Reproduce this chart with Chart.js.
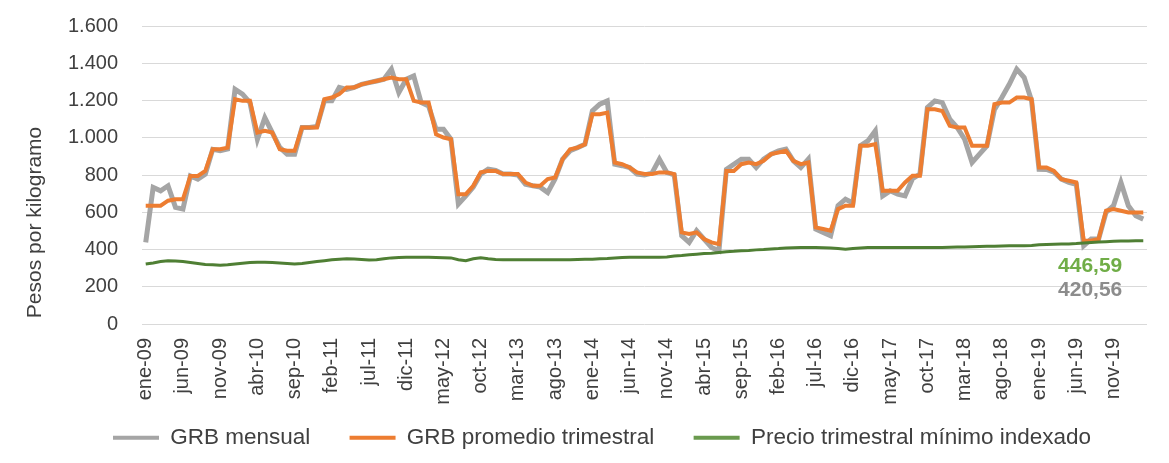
<!DOCTYPE html>
<html>
<head>
<meta charset="utf-8">
<script src="https://cdn.jsdelivr.net/npm/chart.js@4.4.0/dist/chart.umd.js"></script>
<style>
  html, body { margin: 0; padding: 0; background: #fff; }
  #wrap { width: 1169px; height: 463px; position: relative; }
</style>
</head>
<body>
<div id="wrap"><canvas id="chart"></canvas></div>
<script>
// months ene-09 .. mar-20
const monthNames = ['ene', 'feb', 'mar', 'abr', 'may', 'jun', 'jul', 'ago', 'sep', 'oct', 'nov', 'dic'];
const years = ['09', '10', '11', '12', '13', '14', '15', '16', '17', '18', '19', '20'];
const labels = [];
years.forEach(y => monthNames.forEach(m => labels.push(m + '-' + y)));
labels.length = 135;

const grbMensual = [
    438, 733, 715, 742, 626, 617, 795, 778, 805, 938, 930, 940,
    1260, 1234, 1189, 992, 1108, 1028, 948, 912, 912, 1055, 1055, 1060,
    1198, 1198, 1270, 1260, 1270, 1287, 1296, 1305, 1314, 1368, 1243, 1314,
    1332, 1189, 1170, 1046, 1046, 992, 644, 688, 735, 805, 831, 825,
    805, 805, 800, 750, 742, 735, 706, 780, 885, 930, 947, 965,
    1144, 1180, 1198, 858, 850, 840, 805, 800, 810, 885, 814, 800,
    474, 438, 501, 456, 411, 393, 830, 858, 885, 885, 840, 885,
    912, 930, 939, 876, 840, 885, 510, 492, 474, 635, 670, 650,
    957, 983, 1037, 688, 715, 697, 688, 780, 805, 1162, 1198, 1189,
    1100, 1055, 992, 867, 912, 957, 1150, 1216, 1287, 1368, 1323, 1198,
    831, 830, 815, 778, 760, 750, 420.56, 456, 456, 599, 635, 760,
    635, 581, 563
];

const grbTrimestral = [
    635, 635, 635, 662, 670, 670, 795, 795, 822, 938, 938, 947,
    1207, 1198, 1198, 1028, 1037, 1028, 938, 930, 930, 1055, 1055, 1055,
    1207, 1216, 1234, 1270, 1270, 1287, 1296, 1305, 1314, 1323, 1314, 1314,
    1198, 1189, 1189, 1019, 1001, 992, 697, 697, 742, 814, 822, 822,
    805, 805, 805, 760, 742, 742, 778, 787, 885, 938, 947, 965,
    1126, 1126, 1135, 867, 858, 840, 814, 805, 805, 814, 814, 805,
    492, 483, 492, 456, 438, 429, 822, 822, 858, 867, 858, 876,
    912, 921, 930, 876, 858, 867, 519, 510, 501, 617, 635, 635,
    957, 957, 966, 715, 715, 715, 760, 796, 796, 1153, 1153, 1144,
    1064, 1055, 1055, 957, 957, 957, 1180, 1189, 1189, 1216, 1216, 1207,
    840, 840, 822, 778, 769, 760, 447, 447, 456, 608, 617, 608,
    599, 599, 599
];

const precioMinimo = [
    322, 328, 335, 340, 338, 335, 330, 325, 320, 318, 315, 318,
    322, 326, 330, 331, 332, 330, 328, 325, 322, 325, 330, 335,
    340, 345, 348, 350, 349, 346, 343, 345, 350, 355, 357, 358,
    358, 358, 358, 357, 356, 355, 345, 340, 350, 356, 350, 346,
    345, 345, 345, 345, 345, 345, 345, 345, 345, 345, 346, 347,
    348, 350, 352, 355, 357, 358, 358, 358, 358, 358, 360, 365,
    368, 372, 375, 378, 380, 384, 388, 390, 393, 395, 398, 400,
    403, 405, 408, 410, 411, 411, 411, 410, 408, 405, 402, 405,
    408, 411, 411, 411, 411, 411, 411, 411, 411, 411, 411, 411,
    412, 413, 414, 415, 416, 417, 418, 419, 420, 420, 420, 422,
    425, 427, 428, 429, 430, 432, 435, 438, 440, 442, 444, 445,
    446, 446.5, 446.59
];

const yTicks = [0, 200, 400, 600, 800, 1000, 1200, 1400, 1600];
const endLabels = ['446,59', '420,56'];

const fmt = v => String(v).replace(/\B(?=(\d{3})+(?!\d))/g, '.');
const FONT = '"Liberation Sans", Arial, sans-serif';

// the two value labels under the end of the green line
const endLabelPlugin = {
    id: 'endLabels',
    afterDatasetsDraw(chart) {
        const { ctx, scales } = chart;
        const x = scales.x.getPixelForValue(labels.length - 1) - 21;
        ctx.save();
        ctx.font = 'bold 21px ' + FONT;
        ctx.textAlign = 'right';
        ctx.textBaseline = 'middle';
        ctx.fillStyle = '#70AD47';
        ctx.fillText(endLabels[0], x, 266);
        ctx.fillStyle = '#8C8C8C';
        ctx.fillText(endLabels[1], x, 290);
        ctx.restore();
    }
};

new Chart(document.getElementById('chart'), {
    type: 'line',
    data: {
        labels: labels,
        datasets: [
            {
                label: 'GRB mensual',
                data: grbMensual,
                borderColor: '#A5A5A5',
                backgroundColor: '#A5A5A5',
                borderWidth: 5,
                pointRadius: 0,
                tension: 0,
                order: 3
            },
            {
                label: 'GRB promedio trimestral',
                data: grbTrimestral,
                borderColor: '#ED7D31',
                backgroundColor: '#ED7D31',
                borderWidth: 4,
                pointRadius: 0,
                tension: 0,
                order: 2
            },
            {
                label: 'Precio trimestral mínimo indexado',
                data: precioMinimo,
                borderColor: '#4F7F34',
                backgroundColor: '#6A9A4E',
                borderWidth: 3,
                pointRadius: 0,
                tension: 0,
                order: 1
            }
        ]
    },
    options: {
        responsive: true,
        maintainAspectRatio: false,
        animation: false,
        layout: {
            padding: { top: 26, right: 22, left: 57, bottom: 4 }
        },
        plugins: {
            tooltip: { enabled: false },
            legend: {
                position: 'bottom',
                labels: {
                    boxWidth: 46,
                    boxHeight: 4,
                    padding: 8,
                    color: '#404040',
                    font: { family: FONT, size: 22.5 },
                    sort: (a, b) => a.datasetIndex - b.datasetIndex,
                    generateLabels: (chart) => {
                        const items = Chart.defaults.plugins.legend.labels.generateLabels(chart);
                        items.forEach((it) => {
                            it.lineWidth = 0;
                            // extra room after the first two entries
                            if (it.datasetIndex < 2) it.text += '     ';
                        });
                        return items;
                    }
                }
            }
        },
        scales: {
            x: {
                offset: true,
                afterFit: (scale) => {
                    scale.height = 94.5;
                    scale.paddingLeft = 0;
                    scale.paddingRight = 0;
                },
                grid: { display: false, drawTicks: false },
                border: { display: false },
                ticks: {
                    autoSkip: false,
                    maxRotation: 90,
                    minRotation: 90,
                    padding: 14,
                    color: '#404040',
                    font: { family: FONT, size: 20 },
                    callback: function (value, index) {
                        return index % 5 === 0 ? labels[index] : '';
                    }
                }
            },
            y: {
                min: 0,
                max: 1600,
                afterBuildTicks: (scale) => {
                    scale.ticks = yTicks.map(v => ({ value: v }));
                },
                afterFit: (scale) => {
                    scale.width = 85;
                    scale.paddingTop = 0;
                    scale.paddingBottom = 0;
                },
                grid: { color: '#D9D9D9', lineWidth: 1, drawTicks: false },
                border: { display: false },
                ticks: {
                    padding: 24,
                    color: '#404040',
                    font: { family: FONT, size: 20 },
                    callback: (v) => fmt(v)
                },
                title: {
                    display: true,
                    text: ' Pesos por kilogramo',
                    align: 'start',
                    color: '#404040',
                    font: { family: FONT, size: 21 },
                    padding: { top: -34, bottom: 0 }
                }
            }
        }
    },
    plugins: [endLabelPlugin]
});
</script>
</body>
</html>
